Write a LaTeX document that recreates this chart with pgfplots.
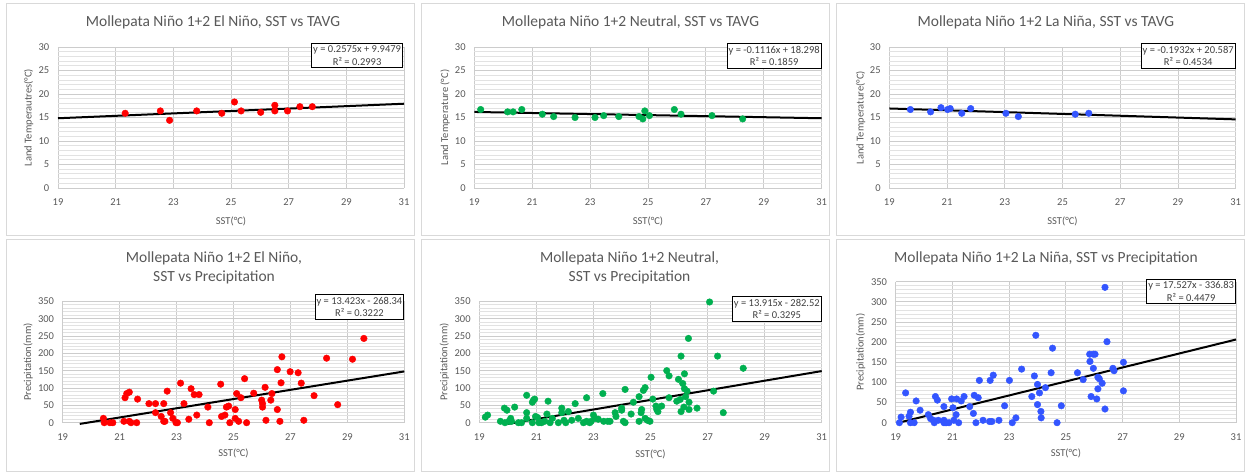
\documentclass[border=0pt]{standalone}
\usepackage{fontspec}
\setmainfont{Carlito}
\usepackage{pgfplots}
\pgfplotsset{compat=1.18}

\definecolor{txt}{HTML}{595959}
\definecolor{eqtxt}{HTML}{404040}
\definecolor{gridmaj}{HTML}{CCCCCC}
\definecolor{gridmin}{HTML}{E2E2E2}
\definecolor{frame}{HTML}{D9D9D9}
\definecolor{ptred}{HTML}{FF0000}
\definecolor{ptgreen}{HTML}{00B050}
\definecolor{ptblue}{HTML}{3355FF}

\pgfplotsset{
  mollepata/.style={
    scale only axis, clip=false,
    xmin=19, xmax=31, xtick={19,21,...,31},
    axis line style={draw=none}, tick style={draw=none},
    xmajorgrids, ymajorgrids,
    major grid style={gridmaj, line width=0.9pt},
    extra y tick labels={},
    extra y tick style={grid=major, major grid style={gridmin, line width=0.8pt}},
    tick label style={font=\fontsize{10.5}{12}\selectfont, text=txt},
    /pgf/number format/assume math mode=true,
    xticklabel style={anchor=center, yshift=-14.5pt},
    yticklabel style={anchor=east, inner xsep=0pt, xshift=-8.5pt},
    label style={font=\fontsize{10.5}{12}\selectfont, text=txt},
    xlabel={SST(°C)},
  },
  tavg/.style={mollepata, ymin=0, ymax=30, ytick={0,5,...,30}, height=141pt,
    extra y ticks={1,2,3,4,6,7,8,9,11,12,13,14,16,17,18,19,21,22,23,24,26,27,28,29}},
  prcp/.style={mollepata, ymin=0, ymax=350, ytick={0,50,...,350},
    extra y ticks={10,20,30,40,60,70,80,90,110,120,130,140,160,170,180,190,210,220,230,240,260,270,280,290,310,320,330,340}},
  pts/.style={only marks, mark=*, mark size=3.3pt, mark options={draw=#1, fill=#1}},
  trend/.style={black, line width=2pt},
}
\tikzset{
  ttl/.style={font=\fontsize{15.5}{19}\selectfont, text=txt, anchor=center},
  eqbox/.style={draw=black, line width=1pt, fill=white, align=center,
    font=\fontsize{10.5}{12.5}\selectfont, text=eqtxt,
    inner xsep=1.5pt, inner ysep=2.5pt, anchor=north east},
}

% El Nino, SST vs TAVG
\pgfplotstableread{
sst tavg
21.33 15.9
22.55 16.4
22.87 14.4
23.81 16.4
24.68 15.9
25.12 18.3
25.35 16.4
26.03 16.1
26.52 17.6
26.52 16.4
26.96 16.4
27.39 17.3
27.82 17.3
}\elninoT

% Neutral, SST vs TAVG
\pgfplotstableread{
sst tavg
19.22 16.7
20.15 16.2
20.34 16.2
20.64 16.7
21.35 15.7
21.74 15.2
22.48 15.0
23.17 15.0
23.47 15.4
23.99 15.2
24.69 15.2
24.82 14.7
24.89 16.4
25.05 15.4
25.91 16.7
26.14 15.7
27.21 15.4
28.27 14.7
}\neutralT

% La Nina, SST vs TAVG
\pgfplotstableread{
sst tavg
19.73 16.7
20.43 16.2
20.79 17.1
21.02 16.7
21.11 16.9
21.51 15.9
21.82 16.9
23.04 15.9
23.47 15.2
25.44 15.7
25.91 15.9
}\laninaT

% El Nino, SST vs precipitation
\pgfplotstableread{
sst pp
20.43 12.5
20.46 0
20.66 0
20.76 0
21.19 72
21.25 84
21.34 88
21.15 4
21.34 4
21.40 0
21.60 0
21.63 68
22.03 55
22.26 55
22.26 29
22.46 18
22.55 55
22.55 4
22.59 4
22.67 91
22.79 29
22.87 12.5
22.98 0
23.03 0
23.14 114
23.26 55
23.43 10
23.51 98
23.62 81
23.71 22
23.79 81
24.10 45
24.15 0
24.55 111
24.58 18
24.70 22
24.75 45
24.83 48
24.87 0
25.06 38
25.06 12.5
25.11 84
25.18 4
25.26 72
25.39 127
25.46 0
25.71 85
25.99 65
26.02 55
26.02 45
26.11 102
26.14 7
26.31 65
26.35 84
26.54 153
26.54 38
26.63 4
26.67 115
26.70 190
26.99 147
27.27 144
27.38 114
27.47 7
27.83 78
28.27 186
28.66 52
29.18 183
29.58 243
}\elninoP

% Neutral, SST vs precipitation
\pgfplotstableread{
sst pp
19.21 16
19.29 22
19.74 4
19.88 42
19.90 0
19.97 36
20.04 4
20.10 12.5
20.13 4
20.24 45
20.37 0
20.48 0
20.66 79
20.66 29
20.66 12.5
20.86 59
20.90 65
20.94 68
20.86 0
20.97 18
21.04 15
21.09 0
21.18 0
21.29 4
21.37 25
21.41 62
21.48 0
21.56 12.5
21.77 0
21.89 42
21.89 29
21.97 7
22.03 0
22.12 32
22.24 7
22.36 55
22.47 12.5
22.65 0
22.76 72
22.76 4
22.87 0
22.92 4
23.00 22
23.06 12.5
23.17 10
23.33 84
23.36 4
23.50 4
23.58 4
23.76 29
23.79 18
23.99 42
23.99 36
24.05 4
24.11 96
24.11 0
24.32 25
24.40 59
24.60 75
24.60 4
24.67 29
24.69 38
24.75 93
24.81 101
24.81 12.5
24.89 7
24.98 4
25.02 131
25.08 68
25.19 48
25.22 38
25.26 32
25.39 48
25.57 150
25.65 135
25.65 72
25.92 62
25.98 125
26.04 67
26.07 192
26.07 32
26.13 113
26.17 45
26.19 141
26.19 98
26.23 75
26.28 91
26.33 243
26.35 59
26.35 38
26.63 42
27.07 348
27.21 91
27.35 192
27.55 29
28.25 157
}\neutralP

% La Nina, SST vs precipitation
\pgfplotstableread{
sst pp
19.13 0
19.19 14
19.35 74
19.47 16
19.52 26
19.52 0
19.65 0
19.72 54
19.86 31
20.15 20
20.23 10
20.33 6
20.36 0
20.40 65
20.47 56
20.50 6
20.70 40
20.70 6
20.70 0
20.74 0
20.79 0
20.88 0
20.97 59
21.02 37
21.05 6
21.13 20
21.15 59
21.22 0
21.31 54
21.41 65
21.61 40
21.74 23
21.77 68
21.83 0
21.91 62
21.95 105
22.08 6
22.31 3
22.33 105
22.39 3
22.44 118
22.64 6
22.84 42
23.01 105
23.11 0
23.24 12
23.44 133
23.80 65
23.89 116
23.94 217
24.00 95
24.00 45
24.07 74
24.12 28
24.13 12
24.28 87
24.48 124
24.53 185
24.69 0
24.84 42
25.41 124
25.61 107
25.84 170
25.85 152
25.89 65
25.97 170
25.97 135
26.03 170
26.09 59
26.13 84
26.13 113
26.18 109
26.28 98
26.38 336
26.38 34
26.45 201
26.66 135
26.70 129
27.03 150
27.03 79
}\laninaP

\begin{document}
\begin{tikzpicture}
\fill[white] (0,0) rectangle (1251pt,472pt);
% chart frames
\foreach \x in {6,421,836} {
  \draw[frame, line width=0.75pt] (\x pt,237pt) rectangle ++(408pt,232pt);
  \draw[frame, line width=0.75pt] (\x pt,1pt) rectangle ++(408pt,232pt);
}

% ---- top row: SST vs TAVG ----
\begin{axis}[tavg, at={(58pt,284pt)}, anchor=south west, width=346pt,
  ylabel={Land Temperautres(°C)},
  ylabel style={at={(axis description cs:-0.085,0.5)}, anchor=center},
  xlabel style={at={(axis description cs:0.5,-0.234)}, anchor=center}]
\addplot[pts=ptred] table[x=sst, y=tavg] {\elninoT};
\addplot[trend] coordinates {(19,14.84) (31,17.93)};
\node[eqbox] at (rel axis cs:1,1) [xshift=-1pt, yshift=4pt] {y = 0.2575x + 9.9479\\R² = 0.2993};
\end{axis}
\node[ttl] at (213pt,449.3pt) {Mollepata Niño 1+2 El Niño, SST vs TAVG};

\begin{axis}[tavg, at={(474.3pt,284pt)}, anchor=south west, width=347.4pt,
  ylabel={Land Temperature (°C)},
  ylabel style={at={(axis description cs:-0.084,0.5)}, anchor=center},
  xlabel style={at={(axis description cs:0.5,-0.234)}, anchor=center}]
\addplot[pts=ptgreen] table[x=sst, y=tavg] {\neutralT};
\addplot[trend] coordinates {(19,16.18) (31,14.84)};
\node[eqbox] at (rel axis cs:1,1) [yshift=4pt] {y = -0.1116x + 18.298\\R² = 0.1859};
\end{axis}
\node[ttl] at (630.5pt,449.3pt) {Mollepata Niño 1+2 Neutral, SST vs TAVG};

\begin{axis}[tavg, at={(889.3pt,284pt)}, anchor=south west, width=346.4pt,
  ylabel={Land Temperature(°C)},
  ylabel style={at={(axis description cs:-0.083,0.5)}, anchor=center},
  xlabel style={at={(axis description cs:0.5,-0.234)}, anchor=center}]
\addplot[pts=ptblue] table[x=sst, y=tavg] {\laninaT};
\addplot[trend] coordinates {(19,16.92) (31,14.60)};
\node[eqbox] at (rel axis cs:1,1) [yshift=4pt] {y = -0.1932x + 20.587\\R² = 0.4534};
\end{axis}
\node[ttl] at (1046pt,449.3pt) {Mollepata Niño 1+2 La Niña, SST vs TAVG};

% ---- bottom row: SST vs precipitation ----
\begin{axis}[prcp, at={(62.7pt,49.3pt)}, anchor=south west, width=341.6pt, height=121.4pt,
  ylabel={Precipitation(mm)},
  ylabel style={at={(axis description cs:-0.101,0.5)}, anchor=center},
  xlabel style={at={(axis description cs:0.5,-0.254)}, anchor=center}]
\addplot[pts=ptred] table[x=sst, y=pp] {\elninoP};
\addplot[trend] coordinates {(19.6,-3.5) (31,147.8)};
\node[eqbox] at (rel axis cs:1,1) [yshift=7pt] {y = 13.423x - 268.34\\R² = 0.3222};
\end{axis}
\node[ttl] at (214pt,213.3pt) {Mollepata Niño 1+2 El Niño,};
\node[ttl] at (214pt,194.3pt) {SST vs Precipitation};

\begin{axis}[prcp, at={(479.3pt,49.3pt)}, anchor=south west, width=342.4pt, height=121.4pt,
  ylabel={Precipitation(mm)},
  ylabel style={at={(axis description cs:-0.102,0.5)}, anchor=center},
  xlabel style={at={(axis description cs:0.5,-0.259)}, anchor=center}]
\addplot[pts=ptgreen] table[x=sst, y=pp] {\neutralP};
\addplot[trend] coordinates {(20.0,-3.5) (31,148.8)};
\node[eqbox] at (rel axis cs:1,1) [yshift=5pt] {y = 13.915x - 282.52\\R² = 0.3295};
\end{axis}
\node[ttl] at (629.5pt,213.3pt) {Mollepata Niño 1+2 Neutral,};
\node[ttl] at (629.5pt,194.3pt) {SST vs Precipitation};

\begin{axis}[prcp, at={(895.7pt,49.3pt)}, anchor=south west, width=340.3pt, height=141pt,
  ylabel={Precipitation(mm)},
  ylabel style={at={(axis description cs:-0.103,0.5)}, anchor=center},
  xlabel style={at={(axis description cs:0.5,-0.217)}, anchor=center}]
\addplot[pts=ptblue] table[x=sst, y=pp] {\laninaP};
\addplot[trend] coordinates {(19.13,0.5) (31,206.5)};
\node[eqbox] at (rel axis cs:1,1) [yshift=3pt] {y = 17.527x - 336.83\\R² = 0.4479};
\end{axis}
\node[ttl] at (1046pt,213.5pt) {Mollepata Niño 1+2 La Niña, SST vs Precipitation};
\end{tikzpicture}
\end{document}
